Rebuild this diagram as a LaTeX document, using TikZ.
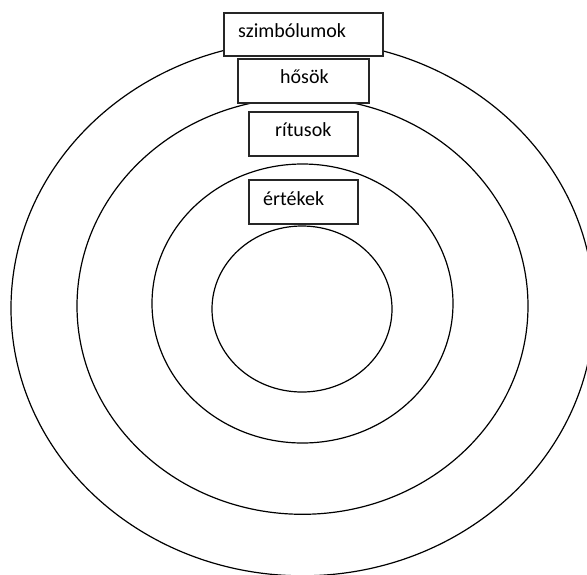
\documentclass[tikz,border=0pt]{standalone}
\usepackage{fontspec}
\setmainfont{Carlito}
\begin{document}
\begin{tikzpicture}[x=1pt,y=-1pt,
  ring/.style={draw=black,line width=1.2pt},
  lbox/.style={draw=black!85,line width=1.5pt,fill=white,rectangle,inner sep=0pt,anchor=north west},
  lbl/.style={anchor=base west,inner sep=0pt,font=\fontsize{20}{22}\selectfont}]
\useasboundingbox (0,0) rectangle (587,574);
\clip (0,0) rectangle (587,574);
% rings
\draw[ring] (302.5,308.2) ellipse [x radius=291.5, y radius=267.6];
\draw[ring] (302.5,306) ellipse [x radius=225.5, y radius=208.3];
\draw[ring] (302.5,303.5) ellipse [x radius=150.5, y radius=139.5];
\draw[ring] (302,309) ellipse [x radius=90, y radius=83];
% boxes
\node[lbox,minimum width=159pt,minimum height=43pt] (b1) at (223,12) {};
\node[lbox,minimum width=131pt,minimum height=44pt] (b2) at (237,58) {};
\node[lbox,minimum width=109pt,minimum height=44pt] (b3) at (248,111) {};
\node[lbox,minimum width=109pt,minimum height=44pt] (b4) at (248,179) {};
% labels
\node[lbl] (t1) at (238,37.3) {szimbólumok};
\node[lbl] (t2) at (280,83.3) {hősök};
\node[lbl] (t3) at (275,136.7) {rítusok};
\node[lbl] (t4) at (263,205.5) {értékek};
\end{tikzpicture}
\end{document}
